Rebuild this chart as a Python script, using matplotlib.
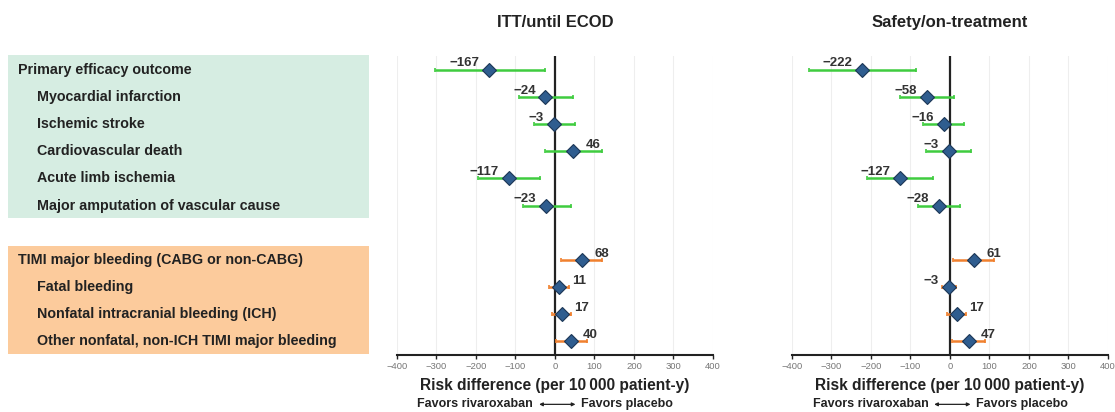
import matplotlib
matplotlib.use("Agg")
import matplotlib.pyplot as plt
import matplotlib.transforms as mtransforms
from matplotlib.patches import Rectangle

plt.rcParams['font.family'] = ['Liberation Sans', 'DejaVu Sans']

# ---- data ----
outcomes = ["Primary efficacy outcome", "Myocardial infarction", "Ischemic stroke",
            "Cardiovascular death", "Acute limb ischemia", "Major amputation of vascular cause",
            "TIMI major bleeding (CABG or non-CABG)", "Fatal bleeding",
            "Nonfatal intracranial bleeding (ICH)", "Other nonfatal, non-ICH TIMI major bleeding"]
indented = [False, True, True, True, True, True, False, True, True, True]
group = ["eff"] * 6 + ["bleed"] * 4
rows = [0, 1, 2, 3, 4, 5, 7, 8, 9, 10]

itt_est = [-167, -24, -3, 46, -117, -23, 68, 11, 17, 40]
itt_lo = [-303, -91, -52, -26, -194, -80, 16, -14, -8, 2]
itt_hi = [-25, 47, 50, 120, -37, 40, 118, 35, 40, 81]

saf_est = [-222, -58, -16, -3, -127, -28, 61, -3, 17, 47]
saf_lo = [-356, -127, -68, -61, -211, -82, 8, -19, -7, 4]
saf_hi = [-86, 11, 35, 54, -42, 26, 111, 15, 40, 88]

panel_titles = ["ITT/until ECOD", "Safety/on-treatment"]
xticks = [-400, -300, -200, -100, 0, 100, 200, 300, 400]

GREEN = "#3fcc3f"
ORANGE = "#f0802e"
DIAMOND = "#2f5d8f"
DIAMOND_EDGE = "#1c3656"

fig = plt.figure(figsize=(11.15, 4.12), dpi=100)
bottom, top = 0.1383, 0.864
ylim = (10.5, -0.5)

# label axes
lab = fig.add_axes([0.0, bottom, 0.34, top - bottom])
lab.set_xlim(0, 0.34 * 1115)
lab.set_ylim(*ylim)
lab.axis("off")
lab.add_patch(Rectangle((8, -0.52), 361, 5.98, facecolor="#d6ede2", edgecolor="none", clip_on=False))
lab.add_patch(Rectangle((8, 6.48), 361, 3.98, facecolor="#fccb9c", edgecolor="none", clip_on=False))
for name, ind, r in zip(outcomes, indented, rows):
    lab.text(37 if ind else 18, r, name, ha="left", va="center", fontsize=10.3,
             fontweight="bold", color="#222222")

panels = [(0.356, itt_est, itt_lo, itt_hi), (0.7103, saf_est, saf_lo, saf_hi)]
width = 0.2834
for (left, est, lo, hi), title in zip(panels, panel_titles):
    ax = fig.add_axes([left, bottom, width, top - bottom])
    ax.set_xlim(-400, 400)
    ax.set_ylim(*ylim)
    ax.set_xticks(xticks)
    ax.set_xticklabels([("\u2212%d" % -t) if t < 0 else str(t) for t in xticks],
                       fontsize=6.8, color="#777777")
    ax.tick_params(axis="x", direction="out", length=3, width=1, color="#222222", pad=2)
    ax.set_yticks([])
    for s in ["top", "right", "left"]:
        ax.spines[s].set_visible(False)
    ax.spines["bottom"].set_linewidth(1.5)
    ax.spines["bottom"].set_color("#222222")
    for t in xticks:
        if t != 0:
            ax.axvline(t, color="#eeeeee", lw=0.8, zorder=0)
    ax.axvline(0, color="#222222", lw=1.6, zorder=1)
    for g, e, l, h, r in zip(group, est, lo, hi, rows):
        c = GREEN if g == "eff" else ORANGE
        ax.plot([l, h], [r, r], color=c, lw=1.8, zorder=2, solid_capstyle="butt")
        ax.plot([l, h], [r, r], ls="none", marker="|", ms=3, mew=1.2, color=c, zorder=2)
        ax.plot([e], [r], marker="D", ms=7.5, mfc=DIAMOND, mec=DIAMOND_EDGE, mew=0.8, zorder=3)
        if e < 0:
            ax.annotate("\u2212%d" % -e, (e, r), xytext=(-7, 4.5), textcoords="offset points",
                        ha="right", va="center", fontsize=9.5, fontweight="bold", color="#333333")
        else:
            ax.annotate("%d" % e, (e, r), xytext=(9, 4.5), textcoords="offset points",
                        ha="left", va="center", fontsize=9.5, fontweight="bold", color="#333333")
    ax.set_title(title, fontsize=12, fontweight="bold", color="#222222", pad=21)
    ax.set_xlabel("Risk difference (per 10\u2009000 patient-y)", fontsize=11.2,
                  fontweight="bold", color="#222222", labelpad=5)
    tr = mtransforms.blended_transform_factory(ax.transData, ax.transAxes)
    ax.text(-55, -0.165, "Favors rivaroxaban", transform=tr, ha="right", va="center",
            fontsize=9, fontweight="bold", color="#222222")
    ax.text(65, -0.165, "Favors placebo", transform=tr, ha="left", va="center",
            fontsize=9, fontweight="bold", color="#222222")
    ax.annotate("", xy=(-40, -0.165), xytext=(52, -0.165), xycoords=tr, textcoords=tr,
                arrowprops=dict(arrowstyle="<|-|>", color="#222222", lw=0.9,
                                mutation_scale=5, shrinkA=0, shrinkB=0))

fig.savefig("out.png", dpi=100)
